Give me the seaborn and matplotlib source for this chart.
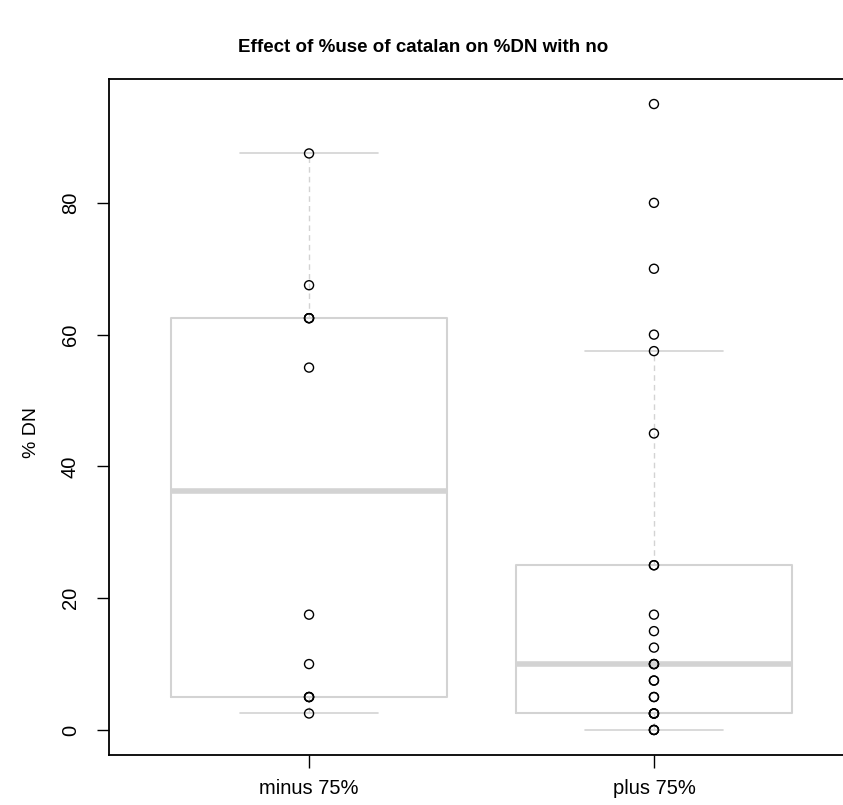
import matplotlib
matplotlib.use("Agg")
import matplotlib.pyplot as plt
import numpy as np
import pandas as pd
import seaborn as sns

# ─── Data ─────────────────────────────────────────────────────────────────────
GROUPS = ["minus 75%", "plus 75%"]
minus_vals = [2.5, 5, 5, 5, 10, 17.5, 55, 62.5, 62.5, 62.5, 67.5, 87.5]
plus_vals = [0, 0, 0, 2.5, 2.5, 2.5, 2.5, 5, 5, 7.5, 7.5, 10, 10, 10,
             12.5, 15, 17.5, 25, 25, 45, 57.5, 60, 70, 80, 95]
Y_TICKS = [0, 20, 40, 60, 80]

TITLE = "Effect of %use of catalan on %DN with no"
Y_LABEL = "% DN"

df = pd.DataFrame({
    "group": [GROUPS[0]] * len(minus_vals) + [GROUPS[1]] * len(plus_vals),
    "value": minus_vals + plus_vals,
})

# ─── Style ────────────────────────────────────────────────────────────────────
sns.set_style("ticks")
FONT = ["Liberation Sans", "DejaVu Sans"]
plt.rcParams["font.family"] = FONT
plt.rcParams["text.color"] = "black"
BOX = "#d3d3d3"

fig = plt.figure(figsize=(8.43, 8.05), dpi=100)
ax = fig.add_axes([109 / 843, 1 - 755 / 805, (854 - 109) / 843, (755 - 79) / 805])

sns.boxplot(
    data=df, x="group", y="value", order=GROUPS, ax=ax,
    width=0.8, fill=False, color=BOX, linewidth=1.5, showfliers=False,
    medianprops={"linewidth": 4, "color": BOX},
    whiskerprops={"linestyle": (0, (4, 3)), "linewidth": 1, "color": BOX},
    capprops={"linewidth": 1.2, "color": BOX},
    boxprops={"color": BOX},
)
sns.stripplot(
    data=df, x="group", y="value", order=GROUPS, ax=ax,
    jitter=False, color="black", size=6.5, marker="o", linewidth=1,
)
# open circles drawn over the boxes, like R's stripchart(add=TRUE)
for coll in ax.collections:
    coll.set_facecolor("none")
    coll.set_edgecolor("black")
    coll.set_linewidth(1.0)
    coll.set_zorder(5)

# ─── Axes ─────────────────────────────────────────────────────────────────────
ax.set_xlim(-0.58, 1.58)
ax.set_ylim(-3.8, 98.8)
ax.set_yticks(Y_TICKS)
ax.set_xlabel("")
ax.set_ylabel("")
for side in ["left", "bottom", "top"]:
    ax.spines[side].set_visible(True)
    ax.spines[side].set_color("black")
    ax.spines[side].set_linewidth(1.3)
ax.spines["right"].set_visible(False)
ax.tick_params(axis="both", direction="out", length=9, width=1, colors="black",
               labelsize=14.5)
ax.tick_params(axis="y", pad=12)
ax.tick_params(axis="x", pad=8)
plt.setp(ax.get_yticklabels(), rotation=90, va="center")

fig.text(423 / 843, 1 - 47 / 805, TITLE, ha="center", va="center",
         fontsize=13.5, fontweight="bold", family=FONT, color="black")
fig.text(32 / 843, 1 - 432 / 805, Y_LABEL, ha="center", va="center",
         rotation=90, fontsize=14, family=FONT, color="black")

fig.savefig("out.png", dpi=100, facecolor="white")
